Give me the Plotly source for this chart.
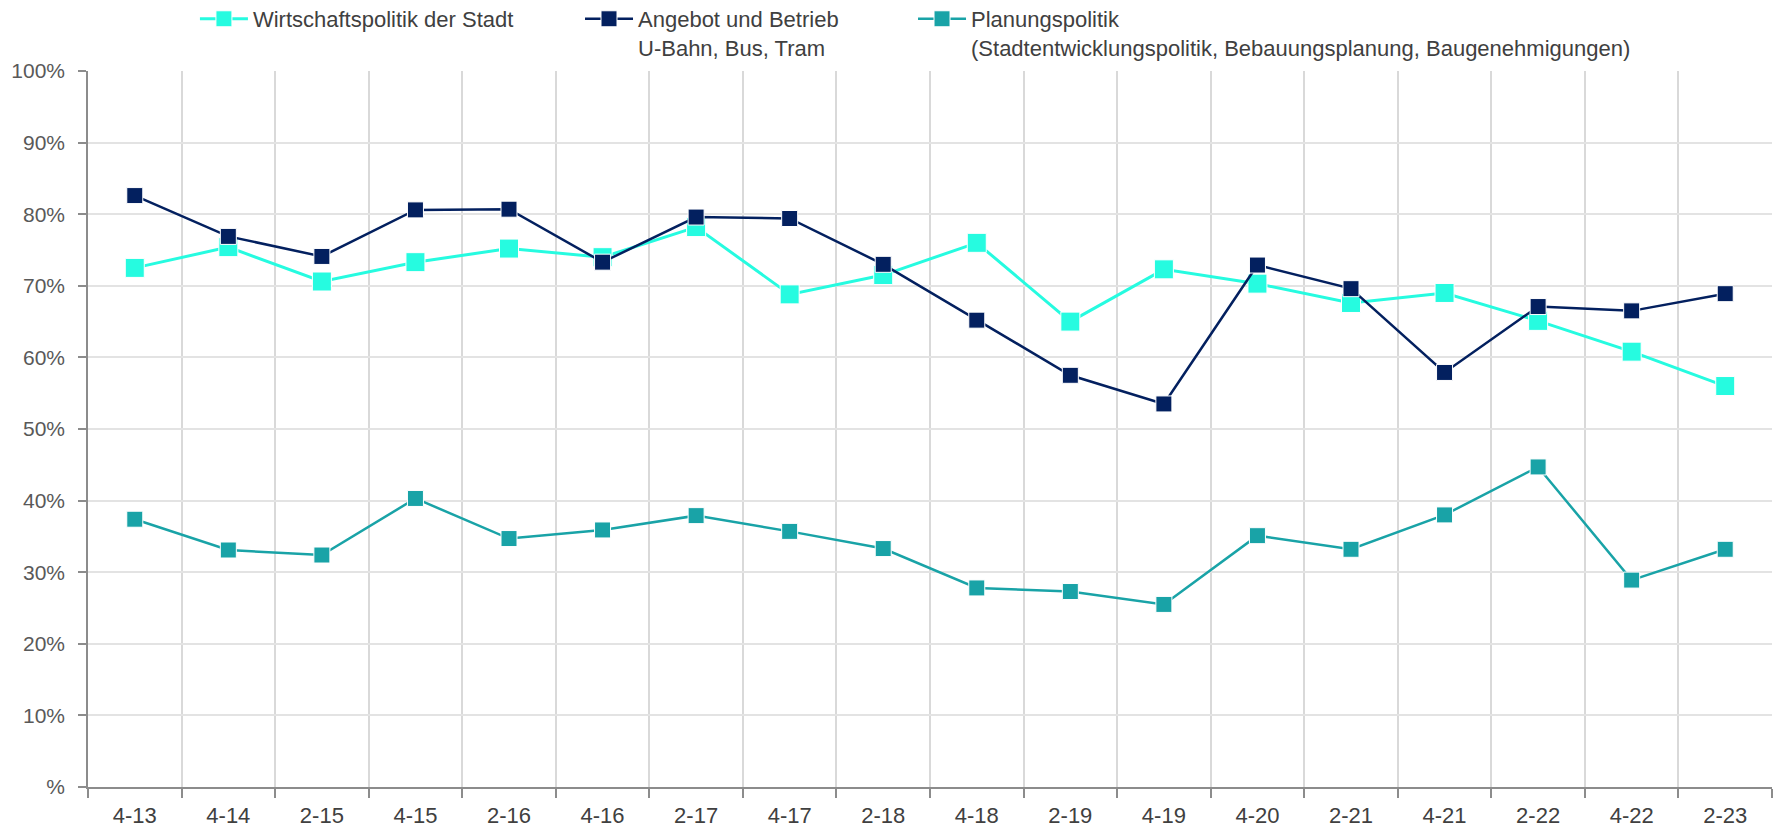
import plotly.graph_objects as go

categories = ["4-13", "4-14", "2-15", "4-15", "2-16", "4-16", "2-17", "4-17", "2-18",
              "4-18", "2-19", "4-19", "4-20", "2-21", "4-21", "2-22", "4-22", "2-23"]

wirtschaft = [72.5, 75.4, 70.6, 73.3, 75.2, 74.0, 78.2, 68.8, 71.5,
              76.0, 65.0, 72.3, 70.3, 67.6, 69.0, 65.1, 60.8, 56.0]
angebot = [82.6, 76.9, 74.1, 80.6, 80.7, 73.3, 79.6, 79.4, 73.0,
           65.2, 57.5, 53.5, 72.9, 69.6, 57.9, 67.1, 66.5, 68.9]
planung = [37.4, 33.1, 32.4, 40.3, 34.7, 35.9, 37.9, 35.7, 33.3,
           27.8, 27.3, 25.5, 35.1, 33.2, 38.0, 44.7, 28.9, 33.2]

names = ["Wirtschaftspolitik der Stadt",
         "Angebot und Betrieb<br>U-Bahn, Bus, Tram",
         "Planungspolitik<br>(Stadtentwicklungspolitik, Bebauungsplanung, Baugenehmigungen)"]

y_tickvals = [0, 10, 20, 30, 40, 50, 60, 70, 80, 90, 100]
y_ticktext = ["%", "10%", "20%", "30%", "40%", "50%", "60%", "70%", "80%", "90%", "100%"]

colors = ["#26FBE0", "#03205F", "#19A3A7"]
sizes = [19, 16, 16]
widths = [3, 2.5, 2.5]

FONT = "Liberation Sans, Arial, sans-serif"

fig = go.Figure()
series = [wirtschaft, angebot, planung]
legends = ["legend", "legend2", "legend3"]
for i, vals in enumerate(series):
    fig.add_trace(go.Scatter(
        x=categories, y=vals, name=names[i],
        mode="lines+markers",
        line=dict(color=colors[i], width=widths[i]),
        marker=dict(symbol="square", size=sizes[i], color=colors[i],
                    line=dict(color="white", width=1)),
        legend=legends[i], showlegend=True,
    ))

leg_common = dict(orientation="v", xref="container", yref="paper",
                  yanchor="top", y=1.102, xanchor="left",
                  font=dict(family=FONT, size=22, color="#404040"),
                  bgcolor="rgba(0,0,0,0)", valign="top", itemwidth=48)

fig.update_layout(
    width=1777, height=832,
    showlegend=True,
    paper_bgcolor="white", plot_bgcolor="white",
    margin=dict(l=88, r=5, t=71, b=45, autoexpand=False),
    legend=dict(x=0.1097, **leg_common),
    legend2=dict(x=0.3264, **leg_common),
    legend3=dict(x=0.5138, **leg_common),
    xaxis=dict(
        type="category", range=[-0.5, 17.5], tickson="boundaries",
        showgrid=True, gridcolor="#D9D9D9", gridwidth=1.5,
        showline=True, linecolor="#8C8C8C", linewidth=1.5,
        ticks="outside", ticklen=9, tickcolor="#8C8C8C", tickwidth=1.5,
        tickangle=0, automargin=False, ticklabelstandoff=8,
        tickfont=dict(family=FONT, size=22, color="#404040"),
    ),
    yaxis=dict(
        range=[0, 100], tickvals=y_tickvals, ticktext=y_ticktext,
        showgrid=True, gridcolor="#E3E3E3", gridwidth=1.5, zeroline=False,
        showline=True, linecolor="#8C8C8C", linewidth=1.5,
        ticks="outside", ticklen=8, tickcolor="#8C8C8C", tickwidth=1.5,
        automargin=False, ticklabelstandoff=9,
        tickfont=dict(family=FONT, size=21, color="#595959"),
    ),
)

fig.write_html("out.html", config={"displayModeBar": False},
               post_script="document.body.style.margin='0';")
